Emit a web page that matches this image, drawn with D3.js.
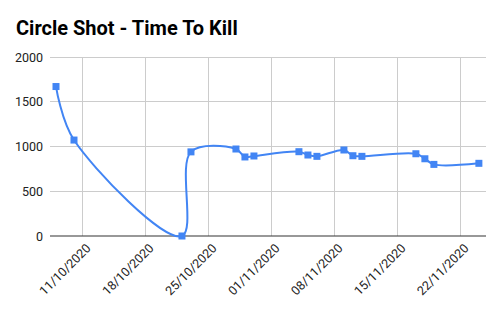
<!DOCTYPE html>
<html>
  <head>
    <meta charset="utf-8">
    <title>Circle Shot - Time To Kill</title>
    <script src="https://d3js.org/d3.v7.min.js"></script>
    <style>
      body { margin: 0; background: #fff; font-family: Roboto, Arial, sans-serif; }
      .grid line { stroke: #ccc; stroke-width: 1; shape-rendering: crispEdges; }
      .tick text { fill: #222; font-size: 12.5px; font-family: Roboto, Arial, sans-serif; }
    </style>
  </head>
  <body>
    <svg id="chart" width="502" height="310"></svg>
    <script>
      // data
      var dates = ["08/10/2020", "10/10/2020", "22/10/2020", "23/10/2020", "28/10/2020",
                   "29/10/2020", "30/10/2020", "04/11/2020", "05/11/2020", "06/11/2020",
                   "09/11/2020", "10/11/2020", "11/11/2020", "17/11/2020", "18/11/2020",
                   "19/11/2020", "24/11/2020"];
      var values = [1670, 1072, 0, 940, 972, 883, 894, 942, 905, 890, 961, 897, 890, 919, 863, 800, 812];
      var xTicks = ["11/10/2020", "18/10/2020", "25/10/2020", "01/11/2020", "08/11/2020", "15/11/2020", "22/11/2020"];
      var yTicks = [0, 500, 1000, 1500, 2000];

      var parse = d3.timeParse("%d/%m/%Y");
      var points = dates.map(function(d, i) { return { date: parse(d), value: values[i] }; });

      var plotLeft = 50, plotRight = 486, plotTop = 57, plotBottom = 236;
      var svg = d3.select("#chart");

      var x = d3.scaleTime()
        .domain([new Date(2020, 9, 7, 8), new Date(2020, 10, 24, 19)])
        .range([plotLeft, plotRight]);
      var y = d3.scaleLinear()
        .domain([0, 2000])
        .range([plotBottom, plotTop]);

      svg.append("text")
        .attr("x", 16)
        .attr("y", 35)
        .style("font-size", "20px")
        .style("font-weight", "bold")
        .style("fill", "#000")
        .text("Circle Shot - Time To Kill");

      // gridlines
      var grid = svg.append("g").classed("grid", true);
      grid.selectAll(".h")
          .data(yTicks.filter(function(d) { return d > 0; }))
        .enter().append("line")
          .attr("x1", plotLeft).attr("x2", plotRight)
          .attr("y1", function(d) { return y(d); })
          .attr("y2", function(d) { return y(d); });
      grid.selectAll(".v")
          .data(xTicks)
        .enter().append("line")
          .attr("x1", function(d) { return x(parse(d)); })
          .attr("x2", function(d) { return x(parse(d)); })
          .attr("y1", plotTop).attr("y2", plotBottom);

      // y axis labels
      var yAxis = d3.axisLeft(y).tickValues(yTicks).tickFormat(d3.format("d")).tickSize(0).tickPadding(7);
      svg.append("g")
        .attr("transform", "translate(" + plotLeft + ",0)")
        .call(yAxis)
        .call(function(g) { g.select(".domain").remove(); });

      // x axis labels
      var xAxis = d3.axisBottom(x)
        .tickValues(xTicks.map(parse))
        .tickFormat(d3.timeFormat("%d/%m/%Y"))
        .tickSize(0);
      svg.append("g")
        .attr("transform", "translate(0," + plotBottom + ")")
        .call(xAxis)
        .call(function(g) { g.select(".domain").remove(); })
        .selectAll("text")
          .attr("text-anchor", "end")
          .attr("dy", null)
          .attr("y", 0)
          .attr("transform", "translate(8,13) rotate(-45)");

      // baseline
      svg.append("line")
        .attr("x1", plotLeft).attr("x2", plotRight)
        .attr("y1", y(0)).attr("y2", y(0))
        .style("stroke", "#333")
        .style("stroke-width", 1.2);

      var line = d3.line()
        .x(function(d) { return x(d.date); })
        .y(function(d) { return y(d.value); })
        .curve(d3.curveCatmullRom.alpha(0.5));

      svg.append("path")
        .datum(points)
        .attr("d", line)
        .style("fill", "none")
        .style("stroke", "#4285f4")
        .style("stroke-width", 2);

      svg.selectAll(".marker")
          .data(points)
        .enter().append("rect")
          .classed("marker", true)
          .attr("x", function(d) { return x(d.date) - 3.5; })
          .attr("y", function(d) { return y(d.value) - 3.5; })
          .attr("width", 7)
          .attr("height", 7)
          .style("fill", "#4285f4");
    </script>
  </body>
</html>
